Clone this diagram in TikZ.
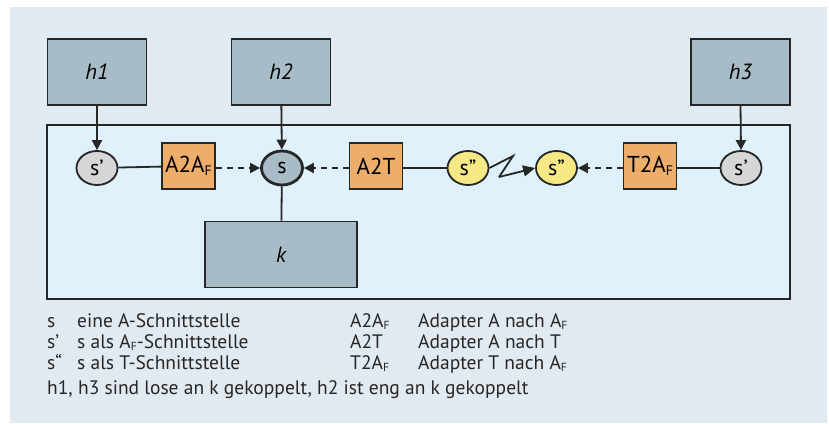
\documentclass[tikz,border=0pt]{standalone}
\usepackage{fontspec}
\setmainfont{PT Sans}
\usetikzlibrary{positioning,arrows.meta,shapes.geometric}
\definecolor{panelgray}{RGB}{226,234,241}
\definecolor{frameblue}{RGB}{223,241,251}
\definecolor{compgray}{RGB}{167,188,199}
\definecolor{ifgray}{RGB}{212,214,216}
\definecolor{ifyellow}{RGB}{247,232,134}
\definecolor{adorange}{RGB}{237,174,108}
\definecolor{inkdark}{RGB}{38,38,38}
\newcommand{\idxF}{\raisebox{-0.25ex}{\scalebox{0.6}{F}}}
\tikzset{
  comp/.style={draw=inkdark,line width=1.8pt,fill=compgray,minimum width=99pt,minimum height=66pt,inner sep=0pt,font=\fontsize{22}{24}\selectfont\itshape},
  iface/.style={ellipse,draw=inkdark,line width=1.8pt,minimum width=41pt,minimum height=34pt,inner sep=0pt,font=\fontsize{22}{24}\selectfont},
  adapt/.style={draw=inkdark,line width=1.8pt,fill=adorange,minimum width=53pt,minimum height=46pt,inner sep=0pt,font=\fontsize{23}{25}\selectfont},
  link/.style={draw=inkdark,line width=1.8pt},
  arr/.style={link,-{Triangle[length=10pt,width=10pt]}},
  darr/.style={arr,dash pattern=on 6pt off 5pt},
  legtxt/.style={anchor=base west,inner sep=0pt,font=\fontsize{19.5}{22}\selectfont,text=inkdark}
}

\begin{document}
\begin{tikzpicture}[x=1pt,y=-1pt]
  \useasboundingbox (0,0) rectangle (829,423);
  \fill[panelgray] (10,7) rectangle (827,423);
  \node[draw=inkdark,line width=2pt,fill=frameblue,minimum width=743pt,minimum height=174pt] (frame) at (418.5,212) {};
  % components
  \node[comp] (h1) at (97,72) {h1}; \node[comp] (h2) at (281,72) {h2}; \node[comp] (h3) at (740.5,72) {h3};
  \node[comp,minimum width=152pt] (k) at (281,254.5) {k};
  % interfaces and adapters
  \node[iface,fill=ifgray] (sl) at (97,168) {s’};
  \node[adapt] (a2af) at (188.5,166) {A2A\idxF};
  \node[iface,fill=compgray,line width=2.8pt] (s) at (282,168) {s};
  \node[adapt] (a2t) at (376,166) {A2T};
  \node[iface,fill=ifyellow] (sdl) at (468,168) {s”};
  \node[iface,fill=ifyellow] (sdr) at (556.5,168) {s”};
  \node[adapt] (t2af) at (650,166) {T2A\idxF};
  \node[iface,fill=ifgray] (sr) at (741,168) {s’};
  \coordinate (zz1) at (513,156); \coordinate (zz2) at (499,177);
  % connectors
  \draw[arr] (h1) -- (sl); \draw[arr] (h2) -- (s); \draw[arr] (h3.south) -- (sr.north);
  \draw[link] (sl) -- (a2af); \draw[darr] (a2af.east |- s) -- (s);
  \draw[darr] (a2t.west |- s) -- (s); \draw[link] (a2t.east |- sdl) -- (sdl);
  \draw[link,line join=miter] (sdl.east) -- (zz1) -- (zz2);
  \draw[link,-{Triangle[length=12pt,width=11pt]}] (zz2) -- (sdr.west);
  \draw[darr] (t2af.west |- sdr) -- (sdr); \draw[link] (t2af.east |- sr) -- (sr);
  \draw[link] (s) -- (k);
  % legend
  \node[legtxt] (l1a) at (47,327) {s}; \node[legtxt] (l1b) at (77,327) {eine A-Schnittstelle};
  \node[legtxt] (l2a) at (47,348) {s’}; \node[legtxt] (l2b) at (77,348) {s als A\idxF-Schnittstelle};
  \node[legtxt] (l3a) at (47,369) {s“}; \node[legtxt] (l3b) at (77,369) {s als T-Schnittstelle};
  \node[legtxt] (l1c) at (350,327) {A2A\idxF}; \node[legtxt] (l1d) at (418,327) {Adapter A nach A\idxF};
  \node[legtxt] (l2c) at (350,348) {A2T}; \node[legtxt] (l2d) at (418,348) {Adapter A nach T};
  \node[legtxt] (l3c) at (350,369) {T2A\idxF}; \node[legtxt] (l3d) at (418,369) {Adapter T nach A\idxF};
  \node[legtxt] (note) at (47,394) {h1, h3 sind lose an k gekoppelt, h2 ist eng an k gekoppelt};
\end{tikzpicture}
\end{document}
